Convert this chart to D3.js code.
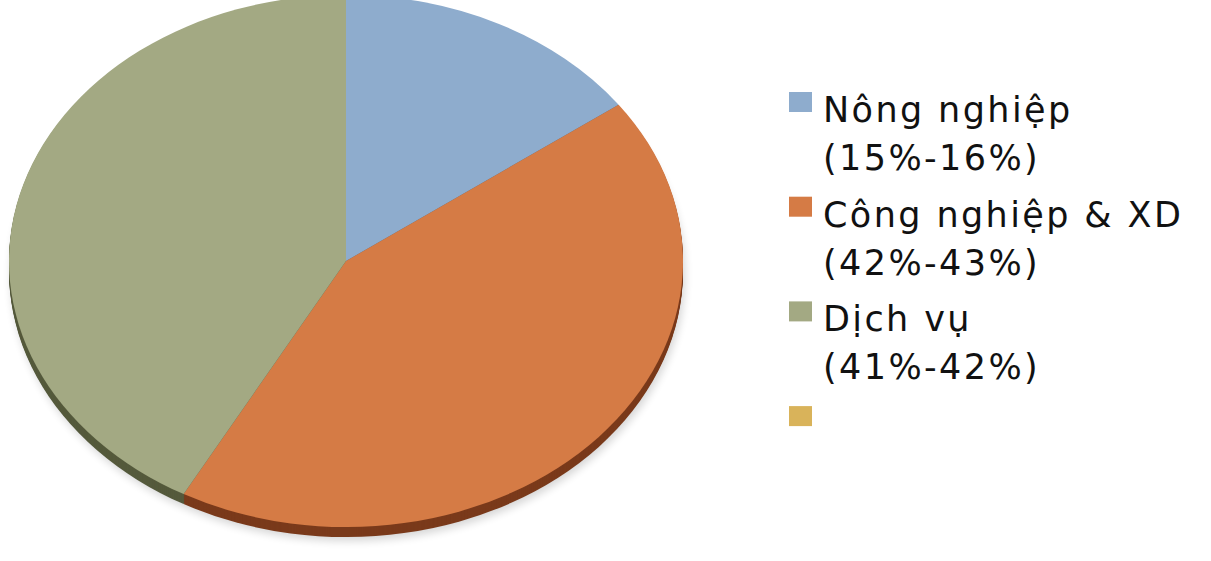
<!DOCTYPE html>
<html>
<head>
<meta charset="utf-8">
<script src="https://cdn.jsdelivr.net/npm/d3@7"></script>
<style>
  html, body { margin: 0; padding: 0; background: #ffffff; }
  svg { display: block; }
</style>
</head>
<body>
<svg id="chart" width="1211" height="561"></svg>
<script>
// ---- data ----
const categories = ["Nông nghiệp", "Công nghiệp & XD", "Dịch vụ", ""];
const rangeLabels = ["(15%-16%)", "(42%-43%)", "(41%-42%)", ""];
const values = [15, 43, 42, 0];

// ---- styles ----
const topColors  = ["#8EACCD", "#D57B45", "#A3A983", "#D9B35A"];
const sideColors = ["#4E6A88", "#7A3A1B", "#555A3C", "#7E6425"];

const svg = d3.select("#chart");
const cx = 346, cy = 261, rx = 337, ry = 266, depth = 10;

const defs = svg.append("defs");
const blur = defs.append("filter").attr("id", "shadow")
  .attr("x", "-10%").attr("y", "-10%").attr("width", "120%").attr("height", "130%");
blur.append("feGaussianBlur").attr("stdDeviation", 4);

const pie = d3.pie().sort(null).value(d => d);
const arcs = pie(values);
const arc = d3.arc().innerRadius(0).outerRadius(rx);

// soft shadow
svg.append("ellipse")
  .attr("cx", cx + 2).attr("cy", cy + depth + 4)
  .attr("rx", rx).attr("ry", ry)
  .attr("fill", "#000").attr("opacity", 0.16)
  .attr("filter", "url(#shadow)");

// side wall (drawn as shifted slices in darker colours)
const side = svg.append("g")
  .attr("transform", `translate(${cx},${cy + depth}) scale(1,${ry / rx})`);
for (let k = depth; k >= 1; k -= 1) {
  side.append("g")
    .attr("transform", `translate(0,${(k - depth) * rx / ry})`)
    .selectAll("path")
    .data(arcs.filter(d => d.value > 0))
    .join("path")
    .attr("d", arc)
    .attr("fill", (d) => sideColors[d.index]);
}

// top face
const topG = svg.append("g")
  .attr("transform", `translate(${cx},${cy}) scale(1,${ry / rx})`);
topG.selectAll("path")
  .data(arcs.filter(d => d.value > 0))
  .join("path")
  .attr("d", arc)
  .attr("fill", d => topColors[d.index]);

// ---- legend ----
const legend = svg.append("g").attr("font-family", "'DejaVu Sans', sans-serif")
  .attr("font-size", 35).attr("letter-spacing", 2.4).attr("fill", "#111");
const itemY = d3.scaleLinear().domain([0, 1]).range([92, 92 + 104.7]);
categories.forEach((c, i) => {
  const y0 = itemY(i);
  legend.append("rect").attr("x", 789).attr("y", y0).attr("width", 23).attr("height", 20)
    .attr("fill", topColors[i]);
  if (c) {
    legend.append("text").attr("x", 823).attr("y", y0 + 30).text(c);
    legend.append("text").attr("x", 823).attr("y", y0 + 78).text(rangeLabels[i]);
  }
});
</script>
</body>
</html>
